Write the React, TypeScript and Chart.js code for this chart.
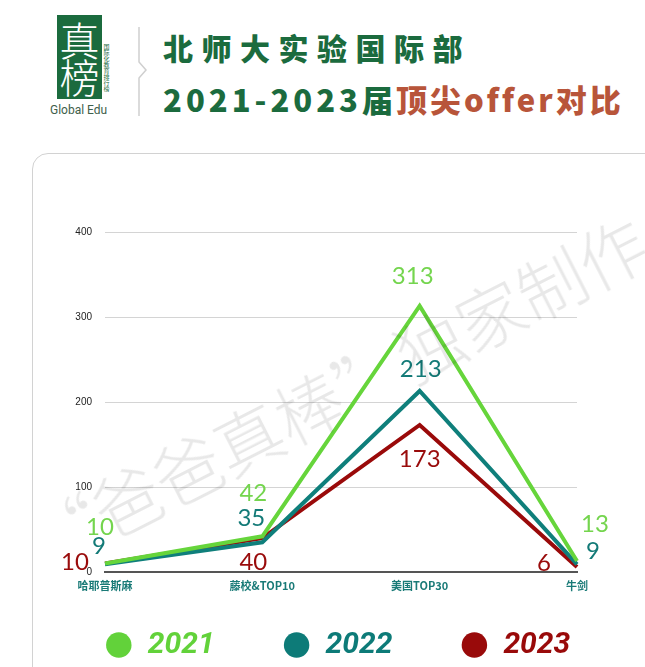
import React, { useEffect, useRef } from 'react';
import { Chart, registerables } from 'chart.js';

Chart.register(...registerables);

// ---- data ----
const categories = ['哈耶普斯麻', '藤校&TOP10', '美国TOP30', '牛剑'];
const seriesNames = ['2021', '2022', '2023'];
const values2021 = [10, 42, 313, 13];
const values2022 = [9, 35, 213, 9];
const values2023 = [10, 40, 173, 6];
const yTickValues = [0, 100, 200, 300, 400];

// ---- styles ----
const LINE_COLORS = ['#66d53b', '#0f7f7b', '#9a0a0a'];
const LABEL_COLORS = ['#74d54e', '#137a77', '#990b0b'];
const LEGEND_COLORS = ['#62d23a', '#0d7b78', '#990a0a'];
const LABEL_OFFSETS: number[][][] = [
  [[-5, -36], [-9, -43], [-7, -30], [18, -37]],
  [[-6, -18], [-11, -24], [1, -22], [16, -13]],
  [[-30, -1], [-9, 24], [0, 34], [-33, -4]],
];
const GREEN = '#1b6b3e';
const BROWN = '#b8553a';

const valueLabelPlugin = {
  id: 'valueLabels',
  afterDatasetsDraw(chart: any) {
    const ctx = chart.ctx;
    chart.data.datasets.forEach((ds: any, i: number) => {
      const meta = chart.getDatasetMeta(i);
      meta.data.forEach((pt: any, j: number) => {
        const [dx, dy] = LABEL_OFFSETS[i][j];
        ctx.save();
        ctx.font = '400 24px Lato, "Open Sans", sans-serif';
        ctx.fillStyle = LABEL_COLORS[i];
        ctx.textAlign = 'center';
        ctx.textBaseline = 'middle';
        ctx.fillText(String(ds.data[j]), pt.x + dx, pt.y + dy);
        ctx.restore();
      });
    });
  },
};

function ChartCanvas() {
  const ref = useRef<HTMLCanvasElement | null>(null);
  useEffect(() => {
    if (!ref.current) return;
    const seriesValues = [values2021, values2022, values2023];
    const chart = new Chart(ref.current, {
      type: 'line',
      data: {
        labels: categories,
        datasets: seriesNames.map((name, i) => ({
          label: name,
          data: seriesValues[i],
          borderColor: LINE_COLORS[i],
          backgroundColor: LINE_COLORS[i],
          borderWidth: 4,
          pointRadius: 0,
          tension: 0,
          fill: false,
          yAxisID: 'y',
        })),
      },
      options: {
        animation: false,
        responsive: true,
        maintainAspectRatio: false,
        layout: { padding: { left: 30, right: 0, top: 232, bottom: -3 } },
        plugins: {
          tooltip: { enabled: false },
          legend: {
            display: true,
            position: 'bottom',
            title: {
              display: true,
              text: '',
              font: { size: 10 },
              padding: { top: -48, bottom: 0 },
            },
            labels: {
              usePointStyle: true,
              boxWidth: 28,
              boxHeight: 18,
              padding: 68,
              font: { family: 'Roboto, sans-serif', size: 30, weight: 'bold', style: 'italic' },
              generateLabels: (c: any) =>
                c.data.datasets.map((ds: any, i: number) => ({
                  text: ds.label,
                  fillStyle: LEGEND_COLORS[i],
                  strokeStyle: LEGEND_COLORS[i],
                  fontColor: LEGEND_COLORS[i],
                  lineWidth: 0,
                  pointStyle: 'circle',
                  hidden: false,
                  datasetIndex: i,
                })),
            },
          },
        },
        scales: {
          x: {
            type: 'category',
            offset: false,
            grid: { display: false, drawTicks: false },
            border: { display: true, color: '#555555', width: 2 },
            ticks: {
              color: '#197a77',
              padding: 7,
              maxRotation: 0,
              autoSkip: false,
              font: { family: '"Noto Sans CJK SC", sans-serif', size: 11, weight: 'bold' },
            },
            afterFit: (s: any) => { s.height = 26; },
          },
          y: {
            position: 'left',
            min: 0,
            max: 400,
            afterBuildTicks: (s: any) => { s.ticks = yTickValues.map((v) => ({ value: v })); },
            grid: { color: '#d4d4d4', lineWidth: 1, drawTicks: false },
            border: { display: false },
            ticks: {
              color: '#222222',
              padding: 13,
              font: { family: '"Liberation Sans", Arial, sans-serif', size: 10 },
            },
            afterFit: (s: any) => { s.width = 75; },
          },
          yRight: {
            position: 'right',
            display: true,
            grid: { display: false, drawTicks: false },
            border: { display: false },
            ticks: { display: false },
            afterFit: (s: any) => { s.width = 68; },
          },
        },
      },
      plugins: [valueLabelPlugin],
    } as any);
    return () => chart.destroy();
  }, []);
  return <canvas ref={ref} />;
}

export default function App() {
  return (
    <div
      style={{
        position: 'fixed',
        left: 0,
        top: 0,
        width: 645,
        height: 667,
        overflow: 'hidden',
        background: '#ffffff',
        fontFamily: '"Noto Sans CJK SC", sans-serif',
      }}
    >
      {/* logo */}
      <div style={{ position: 'absolute', left: 57, top: 15, width: 45, height: 84, background: GREEN }}>
        <div
          style={{
            color: '#fff',
            fontSize: 40,
            lineHeight: '37px',
            fontWeight: 300,
            textAlign: 'center',
            marginTop: 6,
          }}
        >
          真<br />榜
        </div>
      </div>
      <div
        style={{
          position: 'absolute',
          left: 103,
          top: 44,
          writingMode: 'vertical-rl',
          fontSize: 6,
          lineHeight: '6px',
          color: GREEN,
          fontWeight: 400,
        }}
      >
        国际化教育排行榜
      </div>
      <div
        style={{
          position: 'absolute',
          left: 50,
          top: 103,
          fontSize: 12,
          fontFamily: 'Roboto, sans-serif',
          color: '#3e604b',
          whiteSpace: 'nowrap',
        }}
      >
        Global Edu
      </div>
      {/* divider */}
      <svg style={{ position: 'absolute', left: 0, top: 0 }} width={200} height={130}>
        <polyline points="139,27 139,62 146,70 139,78 139,116" fill="none" stroke="#cfcfcf" strokeWidth={1.5} />
      </svg>
      {/* title */}
      <div
        style={{
          position: 'absolute',
          left: 163,
          top: 31,
          fontSize: 30,
          lineHeight: '32px',
          fontWeight: 900,
          color: GREEN,
          letterSpacing: 8.5,
          whiteSpace: 'nowrap',
        }}
      >
        北师大实验国际部
      </div>
      <div
        style={{
          position: 'absolute',
          left: 163,
          top: 83,
          fontSize: 31,
          lineHeight: '32px',
          fontWeight: 900,
          color: GREEN,
          whiteSpace: 'nowrap',
          letterSpacing: 3,
        }}
      >
        <span style={{ letterSpacing: 4 }}>2021-2023</span>
        <span>届</span>
        <span style={{ color: BROWN }}>顶尖offer对比</span>
      </div>
      {/* chart frame */}
      <div
        style={{
          position: 'absolute',
          left: 32,
          top: 153,
          width: 640,
          height: 600,
          border: '1.5px solid #d2d2d2',
          borderRadius: 16,
          boxSizing: 'border-box',
        }}
      />
      <div style={{ position: 'absolute', left: 0, top: 0, width: 645, height: 667 }}>
        <ChartCanvas />
      </div>
      {/* watermark */}
      <div
        style={{
          position: 'absolute',
          left: 338,
          top: 390,
          transform: 'translate(-50%, -50%) rotate(-27deg)',
          fontSize: 68,
          fontWeight: 300,
          color: 'rgba(0,0,0,0.09)',
          whiteSpace: 'nowrap',
          pointerEvents: 'none',
        }}
      >
        “爸爸真棒”独家制作
      </div>
    </div>
  );
}
